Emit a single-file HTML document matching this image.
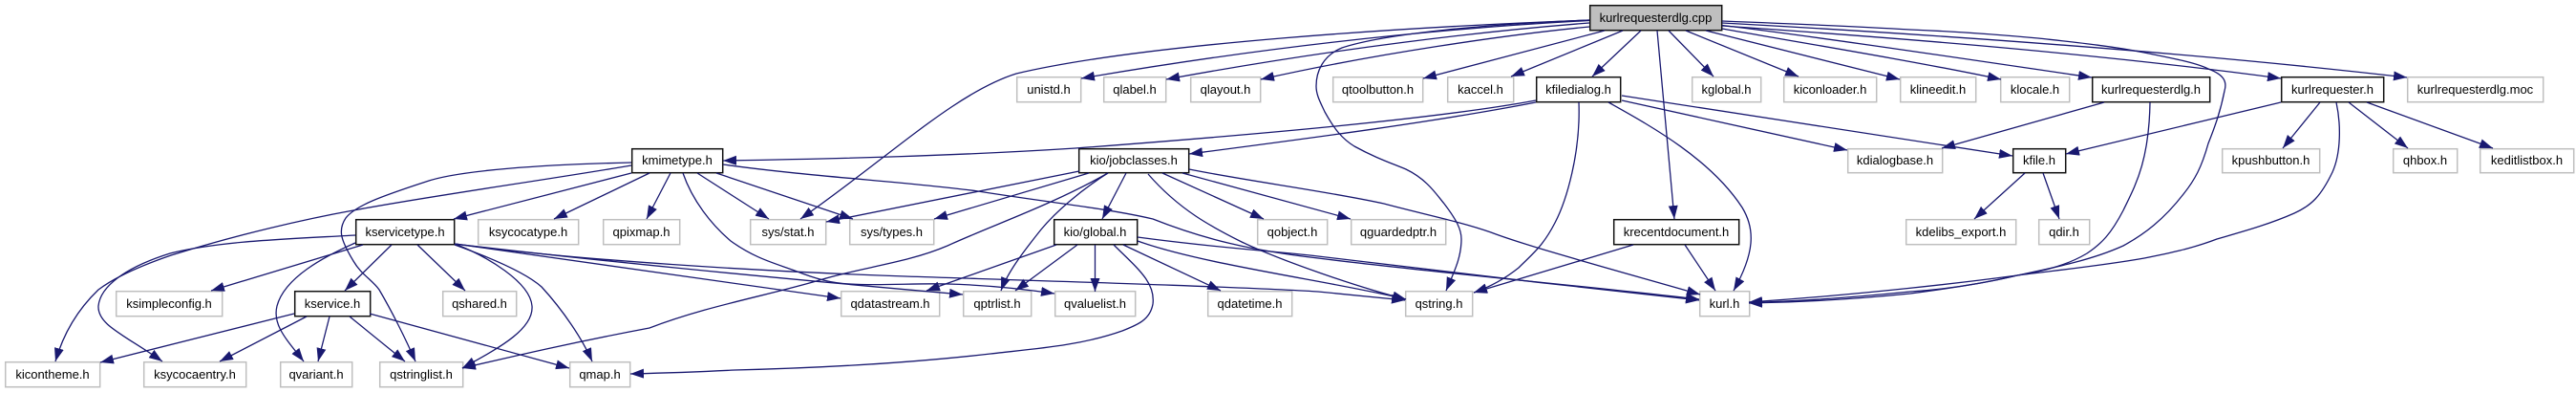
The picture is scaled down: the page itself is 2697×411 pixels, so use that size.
<!DOCTYPE html>
<html><head><meta charset="utf-8"><style>
html,body{margin:0;padding:0;background:#fff;width:2697px;height:411px;overflow:hidden}
svg{display:block}
text{font-family:"Liberation Sans",Arial,sans-serif;font-size:13px;text-anchor:middle;fill:#000}
.g{fill:#fff;stroke:#bfbfbf;stroke-width:1.5}
.b{fill:#fff;stroke:#111;stroke-width:1.5}
.r{fill:#bfbfbf;stroke:#111;stroke-width:1.5}
.e path{fill:none;stroke:#191970;stroke-width:1.3;marker-end:url(#a)}
</style></head><body>
<svg xmlns="http://www.w3.org/2000/svg" width="2697" height="411" viewBox="0 0 2697 411">
<defs><marker id="a" markerUnits="userSpaceOnUse" markerWidth="15" markerHeight="11" refX="14" refY="5" orient="auto"><path d="M0,0L14,5L0,10z" fill="#191970"/></marker></defs>
<rect width="2697" height="411" fill="#fff"/>
<g>
<rect class="r" x="1664.7" y="5.7" width="138" height="26"/>
<rect class="g" x="1064.7" y="80.7" width="67" height="26"/>
<rect class="g" x="1155.7" y="80.7" width="65" height="26"/>
<rect class="g" x="1246.7" y="80.7" width="73" height="26"/>
<rect class="g" x="1395.7" y="80.7" width="94" height="26"/>
<rect class="g" x="1515.7" y="80.7" width="69" height="26"/>
<rect class="b" x="1608.7" y="80.7" width="88" height="26"/>
<rect class="g" x="1771.7" y="80.7" width="72" height="26"/>
<rect class="g" x="1867.7" y="80.7" width="97" height="26"/>
<rect class="g" x="1989.7" y="80.7" width="79" height="26"/>
<rect class="g" x="2094.7" y="80.7" width="72" height="26"/>
<rect class="b" x="2190.7" y="80.7" width="123" height="26"/>
<rect class="b" x="2388.7" y="80.7" width="107" height="26"/>
<rect class="g" x="2520.7" y="80.7" width="142" height="26"/>
<rect class="b" x="661.7" y="155.7" width="95" height="25"/>
<rect class="b" x="1129.7" y="155.7" width="115" height="25"/>
<rect class="g" x="1934.7" y="155.7" width="99" height="25"/>
<rect class="b" x="2107.7" y="155.7" width="55" height="25"/>
<rect class="g" x="2326.7" y="155.7" width="102" height="25"/>
<rect class="g" x="2505.7" y="155.7" width="67" height="25"/>
<rect class="g" x="2596.7" y="155.7" width="98" height="25"/>
<rect class="b" x="372.7" y="229.7" width="103" height="26"/>
<rect class="g" x="500.7" y="229.7" width="105" height="26"/>
<rect class="g" x="631.7" y="229.7" width="80" height="26"/>
<rect class="g" x="785.7" y="229.7" width="79" height="26"/>
<rect class="g" x="889.7" y="229.7" width="88" height="26"/>
<rect class="b" x="1103.7" y="229.7" width="87" height="26"/>
<rect class="g" x="1316.7" y="229.7" width="73" height="26"/>
<rect class="g" x="1414.7" y="229.7" width="99" height="26"/>
<rect class="b" x="1689.7" y="229.7" width="131" height="26"/>
<rect class="g" x="1995.7" y="229.7" width="115" height="26"/>
<rect class="g" x="2134.7" y="229.7" width="53" height="26"/>
<rect class="g" x="121.7" y="304.7" width="111" height="26"/>
<rect class="b" x="308.7" y="304.7" width="79" height="26"/>
<rect class="g" x="463.7" y="304.7" width="77" height="26"/>
<rect class="g" x="880.7" y="304.7" width="103" height="26"/>
<rect class="g" x="1008.7" y="304.7" width="71" height="26"/>
<rect class="g" x="1104.7" y="304.7" width="84" height="26"/>
<rect class="g" x="1264.7" y="304.7" width="88" height="26"/>
<rect class="g" x="1471.7" y="304.7" width="70" height="26"/>
<rect class="g" x="1779.7" y="304.7" width="52" height="26"/>
<rect class="g" x="5.7" y="378.7" width="99" height="26"/>
<rect class="g" x="150.7" y="378.7" width="107" height="26"/>
<rect class="g" x="293.7" y="378.7" width="75" height="26"/>
<rect class="g" x="397.7" y="378.7" width="87" height="26"/>
<rect class="g" x="596.7" y="378.7" width="63" height="26"/>
</g>
<g class="e">
<path d="M1664,21C1480,28 1200,45 1064,77C1000,97 930,165 838,229"/>
<path d="M1664,21.5C1540,28 1360,43 1132,82"/>
<path d="M1664,24C1560,32 1400,50 1221,83"/>
<path d="M1664,28C1580,36 1440,56 1320,83"/>
<path d="M1664,21C1560,25 1450,35 1405,50C1385,58 1378,75 1378,90C1378,100 1383,108 1387,117C1397,135 1405,145 1418,153C1440,165 1455,170 1472,177C1495,188 1505,205 1512,213C1525,230 1530,240 1530,250C1530,270 1522,285 1514,304"/>
<path d="M1680,32L1490,82"/>
<path d="M1699,32L1582,80"/>
<path d="M1718,32L1667,80"/>
<path d="M1735,32L1753,229"/>
<path d="M1747,32L1794,80"/>
<path d="M1765,32L1883,80"/>
<path d="M1786,32L1989,83"/>
<path d="M1803,30C1870,42 2000,63 2095,83"/>
<path d="M1803,26.5C1900,38 2060,62 2190,81"/>
<path d="M1803,27C1900,34 2150,50 2388,82"/>
<path d="M1803,22C1880,25 1950,28 2000,31C2050,33 2090,36 2134,40C2170,44 2210,48 2245,55C2280,62 2300,66 2312,72C2328,78 2332,85 2329,95C2325,115 2320,130 2312,150C2305,175 2298,188 2286,203C2265,230 2245,245 2223,257C2190,272 2150,280 2112,288C2075,297 2030,303 2000,307C1950,312 1890,316 1831,317"/>
<path d="M1803,24C1950,32 2250,50 2520,81"/>
<path d="M1608,105C1500,125 1300,142 1126,155C1000,163 880,166 757,168"/>
<path d="M1608,107C1500,128 1360,146 1245,161"/>
<path d="M1653,107C1655,160 1640,210 1628,233C1615,258 1605,265 1590,280C1575,292 1560,300 1543,306"/>
<path d="M1684,107C1725,130 1790,165 1824,217C1838,240 1837,265 1815,304"/>
<path d="M1698,105L1934,157"/>
<path d="M1698,100L2107,163"/>
<path d="M2203,107L2033,155"/>
<path d="M2251,107C2250,170 2235,195 2223,220C2210,245 2200,255 2185,265C2160,280 2130,285 2112,288C2070,298 2030,303 2000,305C1950,310 1890,315 1831,316.5"/>
<path d="M2388,107L2163,161"/>
<path d="M2429,107L2390,155"/>
<path d="M2459,107L2521,155"/>
<path d="M2478,107L2610,155"/>
<path d="M2446,107C2451,130 2451,160 2442,180C2430,205 2420,215 2402,223C2375,235 2345,243 2321,250C2295,260 2270,265 2245,270C2200,278 2150,283 2112,288C2060,295 1950,308 1831,316"/>
<path d="M2120,181L2067,229"/>
<path d="M2139,181L2156,229"/>
<path d="M1710,256L1543,306"/>
<path d="M1764,256L1796,304"/>
<path d="M661,173C560,190 450,205 370,220C320,229 250,245 179,267C150,277 120,290 103,303C80,325 66,350 58,378"/>
<path d="M661,170C570,172 480,178 446,190C400,205 372,215 362,228C354,240 356,250 370,273C378,287 390,293 397,303C410,325 425,355 435,378"/>
<path d="M661,181L475,229"/>
<path d="M680,181L580,229"/>
<path d="M702,181L677,229"/>
<path d="M730,181L805,229"/>
<path d="M750,181L893,229"/>
<path d="M715,181C725,210 745,235 765,252C790,270 810,275 832,283C855,292 870,296 890,297C920,299 960,296 992,297C1030,298 1070,302 1104,307"/>
<path d="M757,172C850,185 950,190 1024,200C1100,212 1160,218 1207,229C1260,250 1310,262 1380,270C1500,285 1650,298 1779,313"/>
<path d="M1130,179L865,232"/>
<path d="M1140,181L978,229"/>
<path d="M1160,181C1100,215 1040,235 992,257C950,275 900,280 858,293C800,310 740,320 680,343C600,358 540,372 484,385"/>
<path d="M1160,181C1130,200 1105,222 1090,240C1070,265 1055,285 1048,304"/>
<path d="M1179,181L1154,229"/>
<path d="M1202,182C1235,220 1270,238 1300,253C1340,272 1420,300 1472,313"/>
<path d="M1217,181L1323,229"/>
<path d="M1238,181L1414,229"/>
<path d="M1245,177C1310,190 1390,200 1449,213C1490,224 1530,232 1561,243C1600,258 1700,285 1780,308"/>
<path d="M1106,256L970,304"/>
<path d="M1128,256L1063,304"/>
<path d="M1146.5,256L1146.5,305"/>
<path d="M1176,256L1278,304"/>
<path d="M1166,256C1190,280 1210,295 1207,318C1204,335 1190,340 1175,346C1130,362 1080,365 1037,370C950,380 850,385 769,387C730,389 700,390 660,391"/>
<path d="M1191,252C1260,277 1400,295 1472,313"/>
<path d="M1191,248C1280,260 1330,262 1380,268C1500,283 1650,300 1779,314"/>
<path d="M372,246C300,250 230,252 178,265C130,280 105,300 103,320C102,340 130,350 170,378"/>
<path d="M372,254C340,268 298,290 290,320C285,340 300,355 318,378"/>
<path d="M380,256L221,304"/>
<path d="M410,256L361,304"/>
<path d="M437,256L487,304"/>
<path d="M476,255C510,268 555,295 557,320C559,345 520,365 484,385"/>
<path d="M476,256C515,270 550,285 567,300C590,325 610,355 620,378"/>
<path d="M476,255L880,312"/>
<path d="M476,255C600,270 800,290 1008,308"/>
<path d="M476,255C600,272 800,284 948,289C1100,294 1300,300 1380,305C1410,308 1440,311 1471,314"/>
<path d="M308,328L105,379"/>
<path d="M321,331L230,378"/>
<path d="M345,331L333,378"/>
<path d="M366,331L424,378"/>
<path d="M387,328L596,385"/>
</g>
<g>
<text x="1733.5" y="23">kurlrequesterdlg.cpp</text>
<text x="1098" y="98">unistd.h</text>
<text x="1188" y="98">qlabel.h</text>
<text x="1283" y="98">qlayout.h</text>
<text x="1442.5" y="98">qtoolbutton.h</text>
<text x="1550" y="98">kaccel.h</text>
<text x="1652.5" y="98">kfiledialog.h</text>
<text x="1807.5" y="98">kglobal.h</text>
<text x="1916" y="98">kiconloader.h</text>
<text x="2029" y="98">klineedit.h</text>
<text x="2130.5" y="98">klocale.h</text>
<text x="2252" y="98">kurlrequesterdlg.h</text>
<text x="2442" y="98">kurlrequester.h</text>
<text x="2591.5" y="98">kurlrequesterdlg.moc</text>
<text x="709" y="172">kmimetype.h</text>
<text x="1187" y="172">kio/jobclasses.h</text>
<text x="1984" y="172">kdialogbase.h</text>
<text x="2135" y="172">kfile.h</text>
<text x="2377.5" y="172">kpushbutton.h</text>
<text x="2539" y="172">qhbox.h</text>
<text x="2645.5" y="172">keditlistbox.h</text>
<text x="424" y="247">kservicetype.h</text>
<text x="553" y="247">ksycocatype.h</text>
<text x="671.5" y="247">qpixmap.h</text>
<text x="825" y="247">sys/stat.h</text>
<text x="933.5" y="247">sys/types.h</text>
<text x="1146.5" y="247">kio/global.h</text>
<text x="1353" y="247">qobject.h</text>
<text x="1464" y="247">qguardedptr.h</text>
<text x="1755" y="247">krecentdocument.h</text>
<text x="2053" y="247">kdelibs_export.h</text>
<text x="2161" y="247">qdir.h</text>
<text x="177" y="322">ksimpleconfig.h</text>
<text x="348" y="322">kservice.h</text>
<text x="502" y="322">qshared.h</text>
<text x="932" y="322">qdatastream.h</text>
<text x="1044" y="322">qptrlist.h</text>
<text x="1146.5" y="322">qvaluelist.h</text>
<text x="1308.5" y="322">qdatetime.h</text>
<text x="1506.5" y="322">qstring.h</text>
<text x="1805.5" y="322">kurl.h</text>
<text x="55" y="396">kicontheme.h</text>
<text x="204" y="396">ksycocaentry.h</text>
<text x="331" y="396">qvariant.h</text>
<text x="441" y="396">qstringlist.h</text>
<text x="628" y="396">qmap.h</text>
</g>
</svg>
</body></html>
